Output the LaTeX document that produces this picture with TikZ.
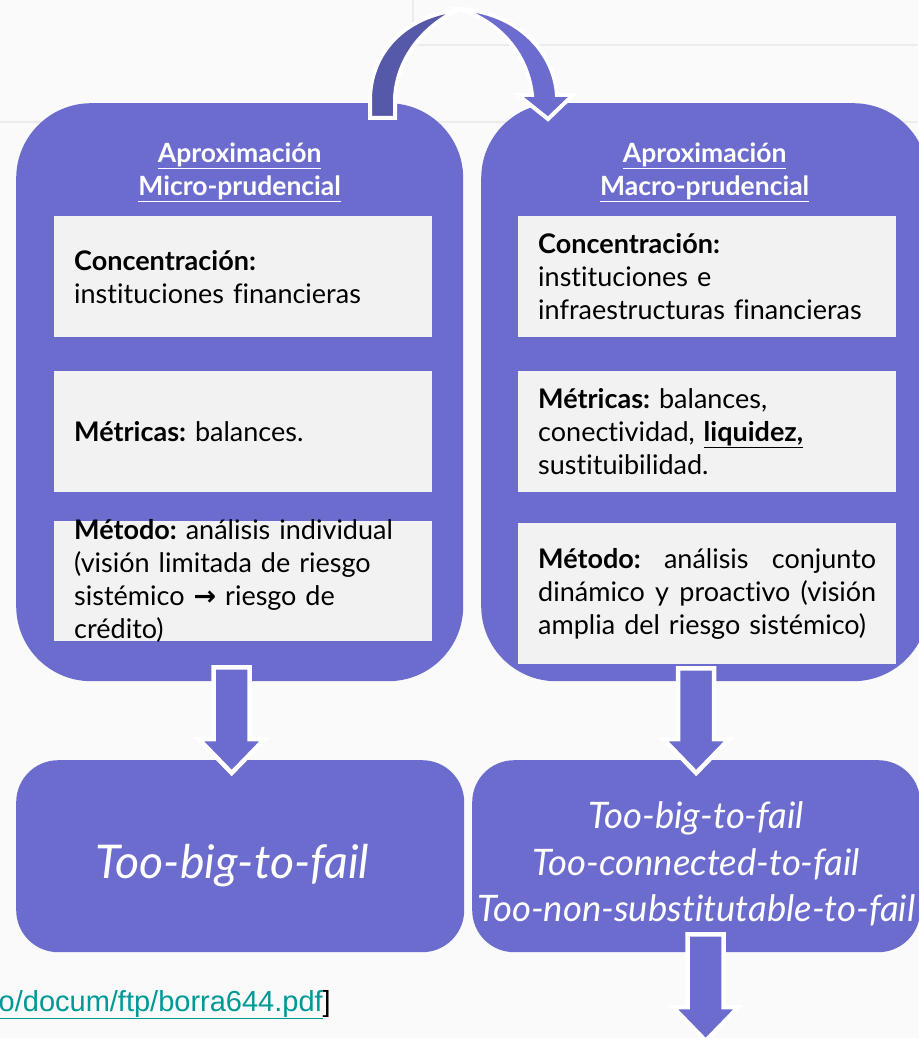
\documentclass[tikz,border=0pt]{standalone}
\usepackage{fontspec}
\setmainfont{Lato}[Ligatures=NoCommon]
\newfontfamily\linkfont{Liberation Sans}
\newfontfamily\arrowfont{DejaVu Sans}
\newfontfamily\failfont{Lato}[Ligatures=NoCommon]
\usetikzlibrary{calc}
\frenchspacing

\definecolor{boxpurple}{RGB}{108,108,206}
\definecolor{arcpurple}{RGB}{86,88,168}
\definecolor{panelgray}{RGB}{242,242,242}
\definecolor{slidebg}{RGB}{250,250,250}
\definecolor{gridline}{RGB}{236,236,236}
\definecolor{linkteal}{RGB}{0,153,150}

\tikzset{
  bigbox/.style={fill=boxpurple, rounded corners=75pt, anchor=north west, inner sep=0pt,
    minimum width=447pt, minimum height=578pt},
  failbox/.style={fill=boxpurple, rounded corners=42pt, anchor=north west, inner sep=0pt,
    minimum width=448pt, minimum height=192pt},
  panel/.style={fill=panelgray, anchor=north west, inner sep=0pt, minimum width=378pt},
  paneltext/.style={text width=338pt, align=left, inner sep=0pt,
    font=\fontsize{27}{33}\selectfont},
  titletext/.style={text=white, align=center, inner sep=0pt,
    font=\bfseries\fontsize{26.5}{33}\selectfont},
  failtext/.style={text=white, align=center, inner sep=0pt, font=\failfont\itshape},
  blockarrow/.style={fill=boxpurple, draw=white, line width=4.5pt},
  linktext/.style={text=linkteal, inner sep=0pt, font=\linkfont\fontsize{29}{30}\selectfont}
}

% down block arrow: #1 = top of the shaft, #2 = tip
\newcommand{\blockdown}[2]{%
  \draw[blockarrow] let \p1=(#1), \p2=(#2) in
    (\x1-18pt,\y1) -- (\x1+18pt,\y1) -- (\x1+18pt,\y2+34pt) -- (\x1+33pt,\y2+34pt)
    -- (\x1,\y2) -- (\x1-33pt,\y2+34pt) -- (\x1-18pt,\y2+34pt) -- cycle;}
% a line stretched to the full panel width
\newcommand{\fullline}[1]{\leavevmode\hbox to 338pt{#1}}

\begin{document}
\begin{tikzpicture}[x=1pt,y=-1pt]
% slide background
\fill[slidebg] (0,0) rectangle (918,1038);
\useasboundingbox (0,0) rectangle (918,1038);
\draw[gridline, line width=2pt] (0,122) -- (918,122) (413,0) -- (413,45) -- (918,45);

% the two approaches
\node[bigbox] (lbig) at (16,103) {};
\node[bigbox] (rbig) at (481,103) {};

\node[titletext] (ltitle) at ($(lbig.north)+(0,69)$) {\underline{Aproximación}\\\underline{Micro-prudencial}};
\node[titletext] (rtitle) at ($(rbig.north)+(0,69)$) {\underline{Aproximación}\\\underline{Macro-prudencial}};

\node[panel, minimum height=121pt] (lconc) at (54,216) {};
\node[panel, minimum height=121pt] (lmetr) at (54,371) {};
\node[panel, minimum height=120pt] (lmeth) at (54,521) {};
\node[panel, minimum height=121pt] (rconc) at (518,216) {};
\node[panel, minimum height=121pt] (rmetr) at (518,371) {};
\node[panel, minimum height=141pt] (rmeth) at (518,523) {};

\node[paneltext] (lconct) at (lconc.center) {\textbf{Concentración:}\\instituciones financieras};
\node[paneltext] (lmetrt) at (lmetr.center) {\textbf{Métricas:} balances.};
\node[paneltext] (lmetht) at (lmeth.center) {\textbf{Método:} análisis individual\\(visión limitada de riesgo\\sistémico {\arrowfont\bfseries →} riesgo de\\crédito)};
\node[paneltext] (rconct) at (rconc.center) {\textbf{Concentración:}\\instituciones e\\infraestructuras financieras};
\node[paneltext] (rmetrt) at (rmetr.center) {\textbf{Métricas:} balances,\\conectividad, \textbf{\underline{liquidez,}}\\sustituibilidad.};
\node[paneltext] (rmetht) at (rmeth.center) {\fullline{\textbf{Método:}\hfill análisis\hfill conjunto}\\\fullline{dinámico\hfill y\hfill proactivo\hfill (visión}\\amplia del riesgo sistémico)};

% curved arrow from micro to macro
\draw[fill=arcpurple, draw=white, line width=4pt] (370,118) -- (370,98)
  .. controls (371,52) and (405,16) .. (458,10)
  .. controls (424,26) and (397,58) .. (395,98) -- (395,118) -- cycle;
\draw[fill=boxpurple, draw=white, line width=4pt] (460,9)
  .. controls (515,12) and (554,50) .. (557,95) -- (573,95) -- (548,119) -- (518,95) -- (532,95)
  .. controls (528,58) and (504,24) .. (460,9) -- cycle;

% outcomes
\node[failbox] (lfail) at (16,760) {};
\node[failbox] (rfail) at (472,760) {};
\node[failtext, font=\failfont\itshape\fontsize{46.5}{50}\selectfont] (lfailt) at ($(lfail.center)+(-8,9)$) {Too-big-to-fail};
\node[failtext, font=\failfont\itshape\fontsize{36.5}{46.5}\selectfont] (rfailt) at ($(rfail.center)+(0,8)$) {Too-big-to-fail\\Too-connected-to-fail\\Too-non-substitutable-to-fail};

\coordinate (la) at ($(lbig.south)+(-8,-14)$);
\coordinate (lb) at ($(lfail.north)+(-8,13)$);
\coordinate (ra) at ($(rbig.south)+(-8.5,-13)$);
\coordinate (rb) at ($(rfail.north)+(0,13)$);
\coordinate (fa) at ($(rfail.south)+(9.5,-18)$);
\coordinate (fb) at (705.5,1041);
\blockdown{la}{lb}
\blockdown{ra}{rb}
\blockdown{fa}{fb}

\node[linktext, anchor=base east] (src) at (331,1011) {\underline{o/docum/ftp/borra644.pdf}\textcolor{black}{]}};
\end{tikzpicture}
\end{document}
